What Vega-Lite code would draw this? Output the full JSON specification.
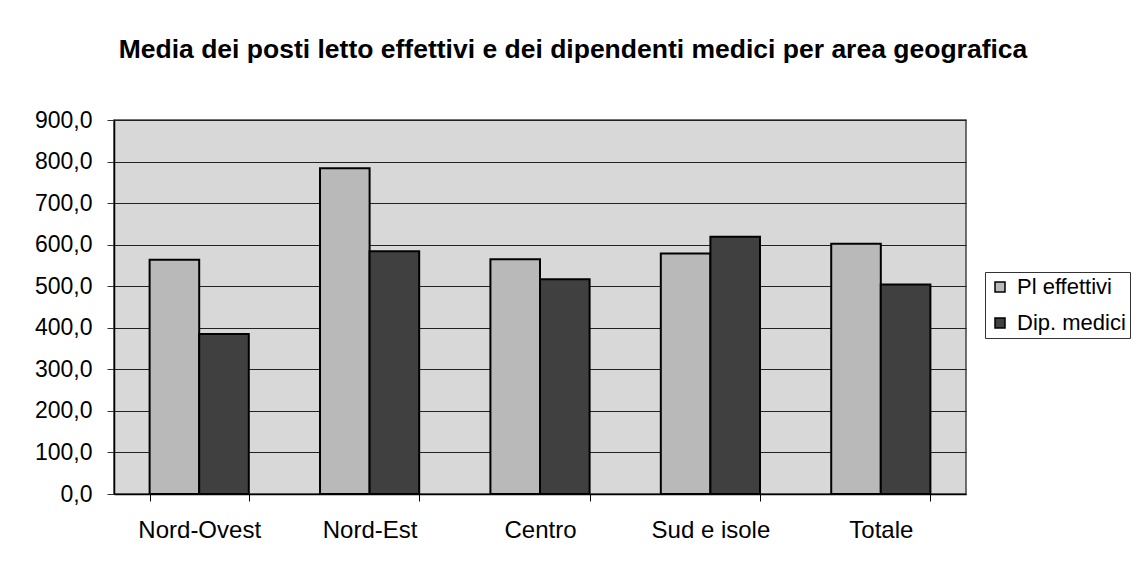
{
  "$schema": "https://vega.github.io/schema/vega-lite/v6.json",
  "width": 852,
  "height": 374,
  "autosize": {"type": "none"},
  "padding": {"left": 114, "top": 120, "right": 178, "bottom": 73},
  "background": "white",
  "config": {
    "locale": {"number": {"decimal": ",", "thousands": ".", "grouping": [3], "currency": ["€", ""]}},
    "font": "Liberation Sans",
    "view": {"fill": "#d8d8d8", "stroke": "#444444", "strokeWidth": 1.5}
  },
  "title": {
    "text": "Media dei posti letto effettivi e dei dipendenti medici per area geografica",
    "font": "Liberation Sans",
    "fontSize": 26.5,
    "fontWeight": "bold",
    "color": "black",
    "anchor": "middle",
    "frame": "group",
    "dx": 33,
    "offset": 46
  },
  "data": {
    "values": [
      {"area": "Nord-Ovest", "serie": "Pl effettivi", "valore": 564},
      {"area": "Nord-Ovest", "serie": "Dip. medici", "valore": 385},
      {"area": "Nord-Est", "serie": "Pl effettivi", "valore": 784},
      {"area": "Nord-Est", "serie": "Dip. medici", "valore": 584},
      {"area": "Centro", "serie": "Pl effettivi", "valore": 565},
      {"area": "Centro", "serie": "Dip. medici", "valore": 517},
      {"area": "Sud e isole", "serie": "Pl effettivi", "valore": 579},
      {"area": "Sud e isole", "serie": "Dip. medici", "valore": 619},
      {"area": "Totale", "serie": "Pl effettivi", "valore": 602},
      {"area": "Totale", "serie": "Dip. medici", "valore": 504}
    ]
  },
  "mark": {"type": "bar", "stroke": "black", "strokeWidth": 2, "strokeJoin": "miter"},
  "encoding": {
    "x": {
      "field": "area",
      "type": "nominal",
      "sort": ["Nord-Ovest", "Nord-Est", "Centro", "Sud e isole", "Totale"],
      "scale": {"paddingInner": 0.418, "paddingOuter": 0.209},
      "axis": {
        "title": null,
        "labelAngle": 0,
        "labelFont": "Liberation Sans",
        "labelFontSize": 24,
        "labelColor": "black",
        "labelPadding": 17,
        "tickBand": "extent",
        "tickSize": 7,
        "tickColor": "black",
        "domainColor": "black",
        "domainWidth": 1.5,
        "grid": false
      }
    },
    "xOffset": {
      "field": "serie",
      "type": "nominal",
      "sort": ["Pl effettivi", "Dip. medici"],
      "scale": {"paddingInner": 0, "paddingOuter": 0}
    },
    "y": {
      "field": "valore",
      "type": "quantitative",
      "scale": {"domain": [0, 900], "nice": false},
      "axis": {
        "title": null,
        "values": [0, 100, 200, 300, 400, 500, 600, 700, 800, 900],
        "format": ".1f",
        "labelFont": "Liberation Sans",
        "labelFontSize": 23,
        "labelColor": "black",
        "labelPadding": 15,
        "tickSize": 7,
        "tickColor": "#333333",
        "domainColor": "black",
        "domainWidth": 1.5,
        "grid": true,
        "gridColor": "#222222",
        "gridWidth": 1,
        "gridOpacity": 1
      }
    },
    "color": {
      "field": "serie",
      "type": "nominal",
      "sort": ["Pl effettivi", "Dip. medici"],
      "scale": {"domain": ["Pl effettivi", "Dip. medici"], "range": ["#b9b9b9", "#404040"]},
      "legend": {
        "title": null,
        "orient": "none",
        "legendX": 871,
        "legendY": 152,
        "symbolType": "square",
        "symbolSize": 100,
        "symbolStrokeColor": "black",
        "symbolStrokeWidth": 1.5,
        "labelFont": "Liberation Sans",
        "labelFontSize": 22,
        "labelColor": "black",
        "labelOffset": 6,
        "rowPadding": 14,
        "strokeColor": "#333333",
        "padding": 4,
        "fillColor": "white"
      }
    }
  }
}
